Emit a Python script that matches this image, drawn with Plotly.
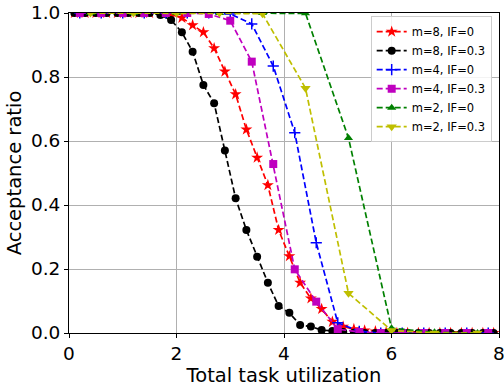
import plotly.graph_objects as go

# x values (total task utilization) per core count
x_m8 = [0.1, 0.3, 0.5, 0.7, 0.9, 1.1, 1.3, 1.5, 1.7, 1.9,
        2.1, 2.3, 2.5, 2.7, 2.9, 3.1, 3.3, 3.5, 3.7, 3.9,
        4.1, 4.3, 4.5, 4.7, 4.9, 5.1, 5.3, 5.5, 5.7, 5.9,
        6.1, 6.3, 6.5, 6.7, 6.9, 7.1, 7.3, 7.5, 7.7, 7.9]
x_m4 = [0.2, 0.6, 1.0, 1.4, 1.8, 2.2, 2.6, 3.0, 3.4, 3.8,
        4.2, 4.6, 5.0, 5.4, 5.8, 6.2, 6.6, 7.0, 7.4, 7.8]
x_m2 = [0.4, 1.2, 2.0, 2.8, 3.6, 4.4, 5.2, 6.0, 6.8, 7.6]

y_m8_if0 = [1.0, 1.0, 1.0, 1.0, 1.0, 1.0, 1.0, 1.0, 1.0, 0.995,
            0.985, 0.962, 0.94, 0.89, 0.817, 0.746, 0.636, 0.548, 0.462, 0.322,
            0.24, 0.157, 0.108, 0.075, 0.035, 0.02, 0.012, 0.008, 0.005, 0.002,
            0, 0, 0, 0, 0, 0, 0, 0, 0, 0]
y_m8_if03 = [1.0, 1.0, 1.0, 1.0, 1.0, 1.0, 1.0, 1.0, 0.994, 0.978,
             0.94, 0.879, 0.775, 0.718, 0.57, 0.421, 0.322, 0.238, 0.157, 0.084,
             0.063, 0.025, 0.02, 0.009, 0.006, 0.003, 0.001, 0, 0, 0,
             0, 0, 0, 0, 0, 0, 0, 0, 0, 0]
y_m4_if0 = [1.0, 1.0, 1.0, 1.0, 1.0, 1.0, 1.0, 0.997, 0.966, 0.834,
            0.626, 0.282, 0.032, 0.005, 0, 0, 0, 0, 0, 0]
y_m4_if03 = [1.0, 1.0, 1.0, 1.0, 1.0, 1.0, 0.997, 0.976, 0.848, 0.528,
             0.199, 0.098, 0.012, 0.003, 0, 0, 0, 0, 0, 0]
y_m2_if0 = [1.0, 1.0, 1.0, 1.0, 1.0, 0.999, 0.609, 0.015, 0.002, 0]
y_m2_if03 = [1.0, 1.0, 1.0, 1.0, 0.998, 0.765, 0.124, 0.008, 0, 0]

x_ticks = [0, 2, 4, 6, 8]
y_ticks = [0.0, 0.2, 0.4, 0.6, 0.8, 1.0]
y_tick_text = ["0.0", "0.2", "0.4", "0.6", "0.8", "1.0"]

series = [
    ("m=8, IF=0", x_m8, y_m8_if0, "#ff0000", "star", 9),
    ("m=8, IF=0.3", x_m8, y_m8_if03, "#000000", "circle", 8),
    ("m=4, IF=0", x_m4, y_m4_if0, "#0000ff", "cross-thin", 8),
    ("m=4, IF=0.3", x_m4, y_m4_if03, "#bf00bf", "square", 8),
    ("m=2, IF=0", x_m2, y_m2_if0, "#008000", "triangle-up", 8),
    ("m=2, IF=0.3", x_m2, y_m2_if03, "#bfbf00", "triangle-down", 9),
]

fig = go.Figure()
for name, xs, ys, color, symbol, size in series:
    marker = dict(symbol=symbol, size=size, color=color,
                  line=dict(width=1.5 if symbol == "cross-thin" else 0, color=color))
    fig.add_trace(go.Scatter(
        x=xs, y=ys, name=name, mode="lines+markers",
        line=dict(color=color, width=1.7, dash="6px,3px"),
        marker=marker, cliponaxis=True,
    ))

font_family = "DejaVu Sans, sans-serif"
fig.update_layout(
    width=504, height=387,
    margin=dict(l=69, r=5, t=13, b=54),
    paper_bgcolor="white", plot_bgcolor="white",
    font=dict(family=font_family, size=18.5, color="black"),
    showlegend=True,
    legend=dict(
        x=0.983, y=0.99, xanchor="right", yanchor="top",
        bgcolor="rgba(255,255,255,0.85)", bordercolor="#cccccc", borderwidth=1,
        font=dict(size=11.5, family=font_family),
        tracegroupgap=0, itemwidth=30,
    ),
    xaxis=dict(
        range=[0, 8], tickvals=x_ticks, ticktext=[str(t) for t in x_ticks],
        showgrid=True, gridcolor="#b0b0b0", gridwidth=1,
        showline=True, linecolor="black", linewidth=1, mirror=True,
        ticks="outside", ticklen=4, tickcolor="black",
        zeroline=False, automargin=False, ticklabeloverflow="allow",
        title=dict(text="Total task utilization", standoff=2, font=dict(size=19.5)),
    ),
    yaxis=dict(
        range=[0, 1], tickvals=y_ticks, ticktext=y_tick_text,
        showgrid=True, gridcolor="#b0b0b0", gridwidth=1,
        showline=True, linecolor="black", linewidth=1, mirror=True,
        ticks="outside", ticklen=4, tickcolor="black",
        zeroline=False, automargin=False, ticklabeloverflow="allow",
        title=dict(text="Acceptance ratio", standoff=4, font=dict(size=19.5)),
    ),
)

fig.write_html(
    "out.html",
    config={"displayModeBar": False},
    post_script="document.body.style.margin='0px';document.body.style.padding='0px';",
)
